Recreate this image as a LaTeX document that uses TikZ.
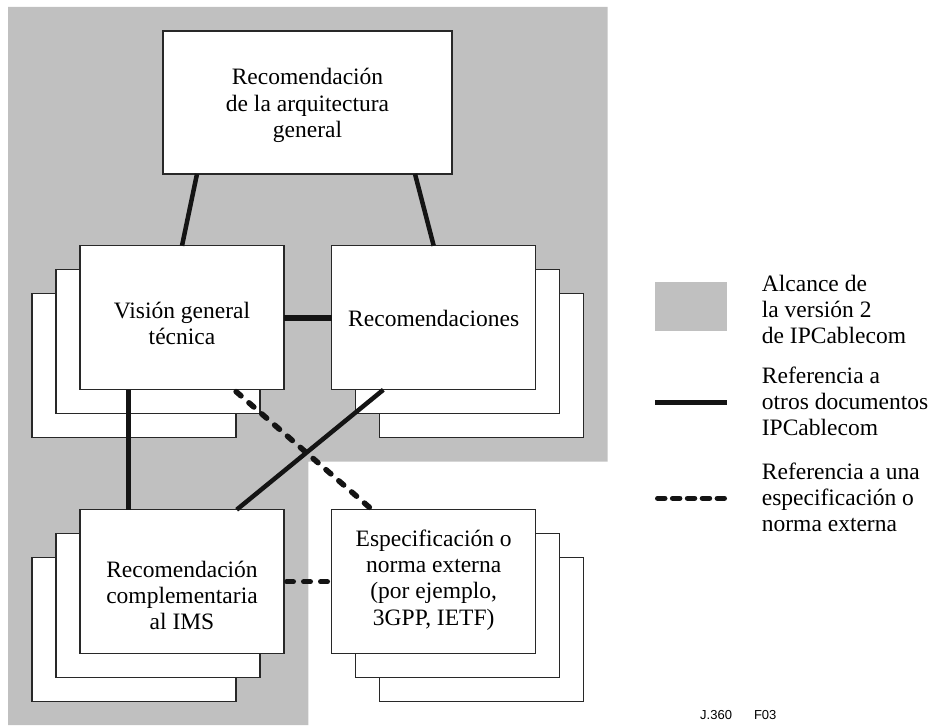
\documentclass[tikz,border=0pt]{standalone}
\usepackage{fontspec}
\setmainfont{Liberation Serif}
\newfontfamily\figsans{Liberation Sans}
\usetikzlibrary{calc}
\definecolor{scopegray}{RGB}{192,192,192}
\definecolor{boxline}{RGB}{40,40,40}
\definecolor{refline}{RGB}{20,20,20}
\begin{document}
\begin{tikzpicture}[x=1pt,y=-1pt,
  doc/.style={draw=boxline,line width=1.1pt,fill=white,minimum width=204pt,
    minimum height=144pt,inner sep=0pt,outer sep=0pt},
  lbl/.style={font=\fontsize{23.5}{26.3}\selectfont,align=center,inner sep=0pt},
  legtxt/.style={font=\fontsize{23.5}{26}\selectfont,align=left,anchor=west,inner sep=0pt},
  ref/.style={line width=4.5pt,draw=refline},
  extref/.style={line width=5.5pt,draw=refline,line cap=round,
    dash pattern=on 6.5pt off 10.5pt,shorten <=2.75pt,shorten >=2.75pt},
]
\useasboundingbox (0,0) rectangle (932,727);

% scope of IPCablecom version 2
\fill[scopegray] (8,7) -- (607.5,7) -- (607.5,461.7) -- (308.3,461.7)
  -- (308.3,725) -- (8,725) -- cycle;

% stacked documents behind the front sheets
\node[doc] (vis3) at (134,365.8) {};
\node[doc] (vis2) at (158,341.8) {};
\node[doc] (rec3) at (481.7,365.8) {};
\node[doc] (rec2) at (457.7,341.8) {};
\node[doc] (ims3) at (134,629.7) {};
\node[doc] (ims2) at (158,605.7) {};
\node[doc] (ext3) at (481.7,629.7) {};
\node[doc] (ext2) at (457.7,605.7) {};

% front sheets
\node[doc,minimum width=289pt,minimum height=143pt] (arch) at (307.5,102.5) {};
\node[doc] (vis) at (182,317.8) {};
\node[doc] (rec) at (433.7,317.8) {};
\node[doc] (ims) at (182,581.7) {};
\node[doc] (ext) at (433.7,581.7) {};

% sheet titles
\node[lbl] (archtxt) at (307.5,105.4) {Recomendación\\de la arquitectura\\general};
\node[lbl] (vistxt) at (182,323.6) {Visión general\\técnica};
\node[lbl] (rectxt) at (433.7,318.6) {Recomendaciones};
\node[lbl] (imstxt) at (182,595.3) {Recomendación\\complementaria\\al IMS};
\node[lbl] (exttxt) at (433.7,579.9) {Especificación o\\norma externa\\(por ejemplo,\\3GPP, IETF)};

% references between IPCablecom documents
\draw[ref] ($(arch.south west)!0.1176!(arch.south east)$) -- (vis.north);
\draw[ref] ($(arch.south west)!0.872!(arch.south east)$) -- (rec.north);
\draw[ref,line width=5.7pt] (vis.east) -- (rec.west);
\draw[ref] ($(vis.south west)!0.237!(vis.south east)$) -- ($(ims.north west)!0.237!(ims.north east)$);
\draw[ref] ($(rec.south west)!0.253!(rec.south east)$) -- ($(ims.north west)!0.768!(ims.north east)$);

% references to external specifications
\draw[extref] ($(vis.south west)!0.755!(vis.south east)$) -- ($(ext.north west)!0.198!(ext.north east)$);
\draw[extref] (ims.east) -- (ext.west);

% key
\node[fill=scopegray,minimum width=72pt,minimum height=49pt,inner sep=0pt,outer sep=0pt]
  (keyscope) at (691,306.2) {};
\coordinate (keyrefA) at (655,402.7);
\coordinate (keyrefB) at (727,402.7);
\draw[ref,line width=5pt] (keyrefA) -- (keyrefB);
\coordinate (keyextA) at (655,498.3);
\coordinate (keyextB) at (727,498.3);
\draw[extref,dash pattern=on 7pt off 7.9pt] (keyextA) -- (keyextB);

\node[legtxt] (keyscopetxt) at (761.7,309.2) {Alcance de\\la versión 2\\de IPCablecom};
\node[legtxt] (keyreftxt) at (761.7,401.2) {Referencia a\\otros documentos\\IPCablecom};
\node[legtxt] (keyexttxt) at (761.7,496.9) {Referencia a una\\especificación o\\norma externa};

% figure identifier
\node[font=\figsans\fontsize{13}{14}\selectfont,anchor=base west,inner sep=0pt]
  (figid) at (700,719) {J.360\hspace{22pt}F03};
\end{tikzpicture}
\end{document}
